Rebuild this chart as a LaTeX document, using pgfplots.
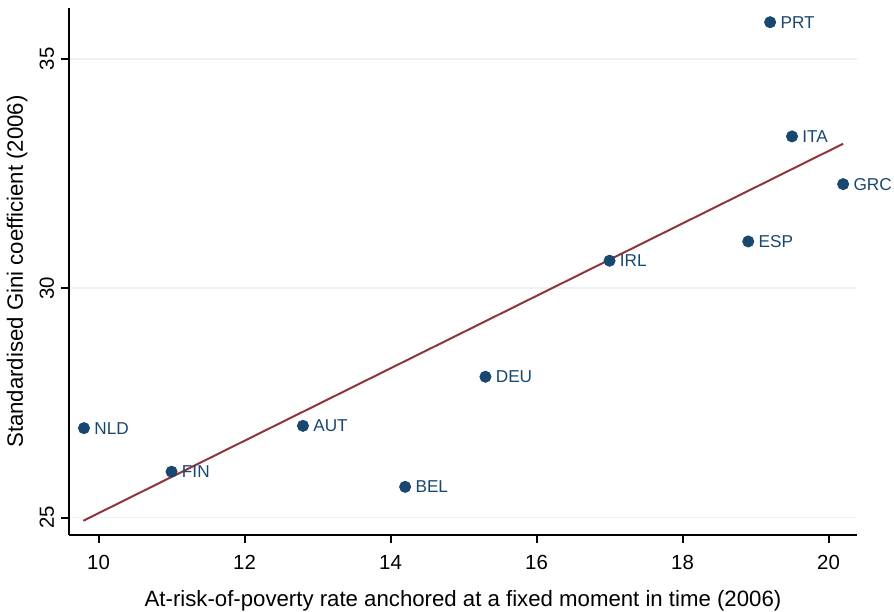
\documentclass[border=0pt]{standalone}
\usepackage{pgfplots}
\pgfplotsset{compat=1.18}
\usepackage{fontspec}
\setmainfont{Liberation Sans}
\definecolor{snavy}{HTML}{1A476F}
\definecolor{smaroon}{HTML}{90353B}
\definecolor{sgrid}{HTML}{EAF2F3}
\pgfplotstableread{
x y lab
19.20 35.80 PRT
19.50 33.31 ITA
20.20 32.27 GRC
18.90 31.02 ESP
17.00 30.60 IRL
15.30 28.07 DEU
9.80 26.95 NLD
12.80 27.00 AUT
11.00 26.00 FIN
14.20 25.67 BEL
}\datatable
\begin{document}
\begin{tikzpicture}
\useasboundingbox (-34.5bp,-38.5bp) rectangle (412.5bp,267.5bp);
\begin{axis}[
  at={(0,0)}, anchor=south west,
  scale only axis, width=394bp, height=263.5bp,
  xmin=9.595, xmax=20.39, ymin=24.62, ymax=36.11,
  axis x line*=bottom, axis y line*=left,
  axis line style={-, line width=1bp, black},
  xtick={10,12,14,16,18,20}, ytick={25,30,35},
  tick align=outside, major tick length=4bp,
  tick style={line width=1bp, black},
  ymajorgrids, grid style={sgrid, line width=0.8bp},
  /pgf/number format/assume math mode=true,
  xticklabel style={font=\fontsize{10.2bp}{12bp}\selectfont, yshift=-2.5bp},
  yticklabel style={font=\fontsize{10.2bp}{12bp}\selectfont, rotate=90, anchor=south},
  xlabel={At-risk-of-poverty rate anchored at a fixed moment in time (2006)},
  ylabel={Standardised Gini coefficient (2006)},
  every axis x label/.style={at={([yshift=-35.5bp]axis description cs:0.5,0)}, anchor=base, font=\fontsize{11.1bp}{13bp}\selectfont},
  every axis y label/.style={at={([xshift=-23bp]axis description cs:0,0.5)}, rotate=90, anchor=base, font=\fontsize{11.1bp}{13bp}\selectfont},
  clip=false,
]
\addplot[smaroon, line width=1bp] coordinates {(9.79,24.93) (20.20,33.15)};
\addplot[only marks, mark=*, mark size=2.8bp, mark options={fill=snavy, draw=snavy},
  point meta=explicit symbolic,
  nodes near coords,
  every node near coord/.append style={anchor=west, inner sep=0pt, xshift=5bp, text=snavy, font=\fontsize{8.6bp}{10bp}\selectfont}]
  table[x=x, y=y, meta=lab] {\datatable};
\end{axis}
\end{tikzpicture}
\end{document}
